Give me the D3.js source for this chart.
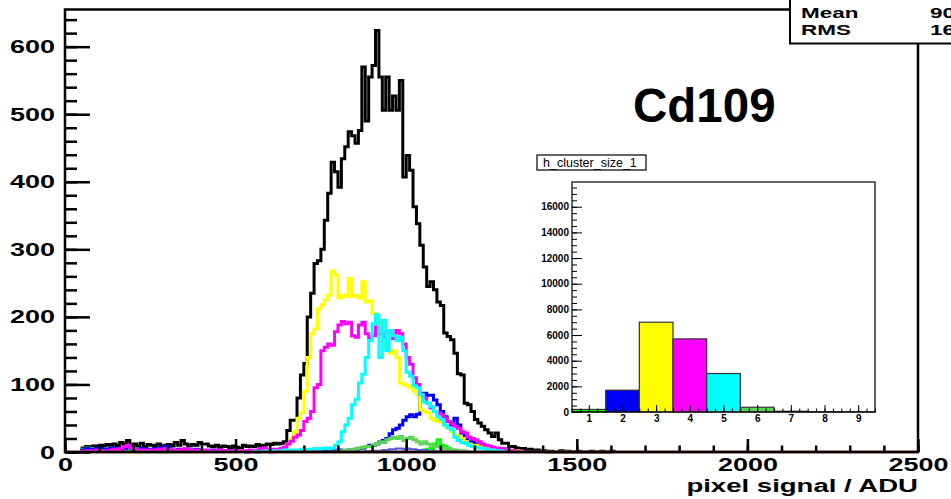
<!DOCTYPE html>
<html>
<head>
<meta charset="utf-8">
<script src="https://cdn.jsdelivr.net/npm/d3@7"></script>
<style>
    body { margin: 0; background: #fff; }
    svg { display: block; }
    text { font-family: "Liberation Sans", Arial, sans-serif; }
</style>
</head>
<body>
<svg id="chart"></svg>
<script>
// bins are 10 ADU wide, every series is given as a first bin + counts
const binWidth = 10;

const blackStart = 5;
const blackCounts = [
    6, 8, 7, 9, 8, 10, 9, 11, 10, 12, 9, 14, 11, 17, 10, 12, 9, 13, 8, 11,
    10, 9, 12, 8, 10, 11, 9, 14, 10, 17, 12, 9, 11, 10, 14, 12, 12, 9, 8, 10,
    7, 9, 8, 6, 9, 7, 5, 10, 8, 9, 8, 11, 9, 10, 12, 11, 13, 12, 13, 15,
    32, 47, 47, 80, 114, 131, 200, 235, 279, 283, 300, 343,
    383, 429, 415, 392, 434, 452, 474, 468, 457, 476, 570, 490, 555, 572, 624,
    555, 506, 555, 506, 527, 506, 550, 407, 439, 417, 363, 338, 306, 274, 245,
    252, 240, 222, 217, 176, 171, 166, 146, 116, 114, 72, 70, 60, 48, 43, 38,
    33, 28, 23, 28, 18, 13, 13, 8, 8, 6, 5, 5, 3, 4, 2, 3, 1, 2, 0,
    1, 0, 0, 2, 0, 1, 0, 0, 1, 0, 0, 0, 1, 0, 0, 1, 0, 0, 1
];

// cluster size 1 (two separate pieces)
const size1LowStart = 5;
const size1LowCounts = [4, 6, 5, 3, 2, 3, 2, 2, 1, 2, 1, 2, 1, 1, 2, 1, 0, 1, 1, 0, 1, 1, 0, 1, 0, 1];
const size1PeakStart = 104;
const size1PeakCounts = [2, 3, 4, 5, 12, 18, 10, 8, 5, 3, 2, 1];

// cluster size 2
const size2Start = 5;
const size2Counts = [
    3, 5, 4, 4, 6, 5, 3, 4, 5, 6, 4, 3, 5, 8, 6, 4, 3, 5, 2, 4,
    3, 5, 4, 6, 8, 7, 3, 2, 4, 3, 2, 3, 2, 4, 3, 2, 1, 2, 3, 2,
    1, 2, 1, 2, 1, 1, 2, 1, 0, 1, 1, 0, 1, 2, 1, 0, 1, 1, 2, 1,
    1, 2, 1, 1, 2, 1, 2, 1, 2, 2, 1, 2, 2, 1, 2, 3, 2, 2, 3, 3,
    3, 5, 6, 8, 10, 10, 12, 15, 17, 20, 27, 33, 35, 40, 47, 52, 55, 52, 56, 84,
    87, 84, 84, 77, 70, 60, 52, 45, 40, 50, 40, 28, 20, 15, 15, 12, 10, 10, 8, 7,
    6, 5, 5, 4, 3, 3, 2, 2, 1, 1
];

// cluster size 3
const size3Start = 50;
const size3Counts = [
    1, 2, 1, 1, 2, 1, 2, 2, 3, 2, 2, 3, 2, 4, 6,
    12, 20, 30, 50, 58, 90, 140, 175, 182, 212, 218, 225, 232, 268, 262,
    228, 232, 230, 257, 230, 232, 228, 252, 222, 224, 205, 195, 190, 165, 155,
    146, 150, 140, 102, 100, 98, 95, 90, 85, 62, 60, 58, 50, 47, 45,
    44, 38, 35, 30, 25, 23, 20, 15, 12, 10, 10, 8, 7, 6, 5, 6, 4, 4, 3, 2, 3, 1, 2, 1
];

// cluster size 4
const size4Start = 5;
const size4Counts = [
    1, 2, 1, 2, 3, 2, 1, 2, 3, 4, 3, 5, 8, 10, 6, 4, 3, 2, 3, 2,
    3, 2, 4, 3, 5, 4, 3, 2, 3, 4, 5, 3, 2, 3, 2, 2, 3, 2, 1, 2,
    3, 2, 1, 2, 2, 1, 2, 1, 2, 3, 2, 3, 5, 6, 4,
    3, 4, 3, 5, 7, 12, 16, 22, 25, 32, 45, 50, 60, 95, 100,
    150, 155, 160, 158, 178, 188, 193, 190, 192, 172, 170, 188, 192, 175, 168,
    172, 185, 175, 170, 178, 180, 168, 180, 175, 160, 140, 130, 110, 100, 85,
    80, 72, 65, 60, 58, 55, 50, 45, 42, 38, 35, 30, 28, 22, 20,
    18, 15, 12, 10, 9, 7, 6, 4, 5, 3, 2, 2, 1
];

// cluster size 5
const size5Start = 55;
const size5Counts = [
    1, 0, 1, 1, 2, 1, 2, 1, 2, 3, 2, 3, 2, 3, 4, 3, 4, 4, 5, 4, 5, 6, 5,
    6, 10, 15, 30, 40, 50, 70, 78, 102, 115, 140, 165, 190, 203, 140, 195, 150,
    180, 172, 165, 170, 150, 118, 112, 98, 95, 85, 74, 72, 67, 60, 52, 48,
    40, 36, 33, 22, 17, 14, 13, 10, 8, 7, 6, 5, 4, 3, 3, 2, 2, 1
];

// cluster size 6
const size6Start = 80;
const size6Counts = [
    2, 2, 3, 3, 3, 5, 6, 7, 8, 8, 10, 12, 15, 14, 18, 20, 22, 20, 23, 17,
    20, 22, 18, 15, 12, 15, 12, 10, 9, 8, 6, 5, 4, 3, 3, 2, 2, 1
];

// cluster size 7
const size7Start = 88;
const size7Counts = [1, 1, 2, 2, 2, 3, 3, 4, 4, 5, 5, 4, 5, 4, 4, 3, 3, 3, 2, 2, 2, 1, 1, 1, 1, 0, 1];

// inset: number of clusters per cluster size
const clusterSizes = [1, 2, 3, 4, 5, 6, 7, 8, 9];
const clusterCounts = [200, 1700, 7000, 5700, 3000, 370, 60, 20, 10];

const yTicks = [0, 100, 200, 300, 400, 500, 600];
const xTicks = [0, 500, 1000, 1500, 2000, 2500];
const insetYTicks = [0, 2000, 4000, 6000, 8000, 10000, 12000, 14000, 16000];
const insetXTicks = [1, 2, 3, 4, 5, 6, 7, 8, 9];

const sizeColors = ['#00ff00', '#0000ff', '#ffff00', '#ff00ff', '#00ffff', '#59d454', '#5954d8', '#cc6666', '#cc6666'];

const plain = d3.format('d');

function stepPoints(start, counts) {
    const pts = [[start * binWidth, 0]];
    counts.forEach((c, i) => {
        const lo = (start + i) * binWidth;
        pts.push([lo, c], [lo + binWidth, c]);
    });
    pts.push([(start + counts.length) * binWidth, 0]);
    return pts;
}

function styleAxis(g, size, weight) {
    g.attr('font-size', size)
        .attr('font-family', '"Liberation Sans", Arial, sans-serif')
        .attr('font-weight', weight);
    g.select('.domain').remove();
    g.selectAll('line').attr('stroke', '#000');
    g.selectAll('text').attr('fill', '#000');
}

function render() {
    const width = 951;
    const height = 499;
    const svg = d3.select('#chart')
        .attr('width', width)
        .attr('height', height);

    svg.append('rect').attr('width', width).attr('height', height).attr('fill', '#fff');

    const frame = {left: 65, right: 918, top: 9.5, bottom: 452};
    const x = d3.scaleLinear().domain([0, 2500]).range([frame.left, frame.right]);
    const y = d3.scaleLinear().domain([0, 655]).range([frame.bottom, frame.top]);

    const line = d3.line().x(d => x(d[0])).y(d => y(d[1]));

    const series = [
        {start: blackStart, counts: blackCounts, color: '#000', w: 3},
        {start: size1LowStart, counts: size1LowCounts, color: sizeColors[0], w: 3},
        {start: size1PeakStart, counts: size1PeakCounts, color: sizeColors[0], w: 3},
        {start: size2Start, counts: size2Counts, color: sizeColors[1], w: 3},
        {start: size3Start, counts: size3Counts, color: sizeColors[2], w: 3},
        {start: size4Start, counts: size4Counts, color: sizeColors[3], w: 3},
        {start: size5Start, counts: size5Counts, color: sizeColors[4], w: 3},
        {start: size6Start, counts: size6Counts, color: sizeColors[5], w: 3},
        {start: size7Start, counts: size7Counts, color: sizeColors[6], w: 2}
    ];

    series.forEach(s => {
        svg.append('path')
            .datum(stepPoints(s.start, s.counts))
            .attr('fill', 'none')
            .attr('stroke', s.color)
            .attr('stroke-width', s.w)
            .attr('d', line);
    });

    // empty histogram lying on the x axis
    svg.append('line')
        .attr('x1', x(0)).attr('x2', x(2500))
        .attr('y1', y(0)).attr('y2', y(0))
        .attr('stroke', '#cc6666')
        .attr('stroke-width', 3);

    // frame
    svg.append('rect')
        .attr('x', frame.left).attr('y', frame.top)
        .attr('width', frame.right - frame.left)
        .attr('height', frame.bottom - frame.top)
        .attr('fill', 'none')
        .attr('stroke', '#000')
        .attr('stroke-width', 2.5);

    // y axis, ticks pointing inside
    svg.append('g')
        .attr('transform', `translate(${frame.left},0)`)
        .call(d3.axisLeft(y).tickValues(d3.range(0, 641, 20)).tickSize(-12).tickFormat(''))
        .call(g => styleAxis(g, 19, 'bold'))
        .selectAll('line').attr('stroke-width', 2.5);

    const yAxis = svg.append('g')
        .attr('transform', `translate(${frame.left},0)`)
        .call(d3.axisLeft(y).tickValues(yTicks).tickFormat(plain)
            .tickSizeInner(-25).tickSizeOuter(0).tickPadding(10))
        .call(g => styleAxis(g, 19, 'bold'));
    yAxis.selectAll('line').attr('stroke-width', 2.5);
    yAxis.selectAll('text')
        .attr('x', -10 / 1.42)
        .attr('transform', 'scale(1.42,1)');

    // x axis
    svg.append('g')
        .attr('transform', `translate(0,${frame.bottom})`)
        .call(d3.axisBottom(x).tickValues(d3.range(0, 2501, 100)).tickSize(-6.5).tickFormat(''))
        .call(g => styleAxis(g, 19, 'bold'))
        .selectAll('line').attr('stroke-width', 2.5);

    const xAxis = svg.append('g')
        .attr('transform', `translate(0,${frame.bottom})`)
        .call(d3.axisBottom(x).tickValues(xTicks).tickFormat(plain)
            .tickSizeInner(-13).tickSizeOuter(0).tickPadding(6))
        .call(g => styleAxis(g, 19, 'bold'));
    xAxis.selectAll('line').attr('stroke-width', 2.5);
    xAxis.selectAll('text').attr('transform', 'scale(1.42,1)');

    svg.append('text')
        .attr('transform', `translate(${frame.right},492) scale(1.45,1)`)
        .attr('text-anchor', 'end')
        .attr('font-size', 19)
        .attr('font-weight', 'bold')
        .text('pixel signal / ADU');

    // stats box, cut by the right edge
    svg.append('rect')
        .attr('x', 790).attr('y', -5)
        .attr('width', 220).attr('height', 48.5)
        .attr('fill', '#fff')
        .attr('stroke', '#000')
        .attr('stroke-width', 2);

    const stats = [['Mean', '905.3', 18], ['RMS', '163.7', 34.5]];
    stats.forEach(([name, value, base]) => {
        svg.append('text')
            .attr('transform', `translate(801,${base}) scale(1.45,1)`)
            .attr('font-size', 15.5)
            .attr('font-weight', 'bold')
            .text(name);
        svg.append('text')
            .attr('transform', `translate(930,${base}) scale(1.45,1)`)
            .attr('font-size', 15.5)
            .attr('font-weight', 'bold')
            .text(value);
    });

    svg.append('text')
        .attr('x', 633).attr('y', 122)
        .attr('font-size', 47.5)
        .attr('font-weight', 'bold')
        .text('Cd109');

    // ---- inset: cluster size ----
    const ix = d3.scaleLinear().domain([0.5, 9.5]).range([572, 875]);
    const iy = d3.scaleLinear().domain([0, 17930]).range([412, 182]);

    svg.append('rect')
        .attr('x', ix(0.5)).attr('y', iy(17930))
        .attr('width', ix(9.5) - ix(0.5))
        .attr('height', iy(0) - iy(17930))
        .attr('fill', '#fff');

    svg.append('g')
        .selectAll('rect')
        .data(clusterSizes)
        .enter()
        .append('rect')
        .attr('x', d => ix(d - 0.5))
        .attr('width', d => ix(d + 0.5) - ix(d - 0.5))
        .attr('y', (d, i) => iy(clusterCounts[i]))
        .attr('height', (d, i) => iy(0) - iy(clusterCounts[i]))
        .attr('fill', (d, i) => sizeColors[i])
        .attr('stroke', '#333')
        .attr('stroke-width', 1.2);

    svg.append('g')
        .attr('transform', 'translate(572,0)')
        .call(d3.axisLeft(iy).tickValues(d3.range(0, 17501, 500)).tickSize(-5).tickFormat(''))
        .call(g => styleAxis(g, 10, 'bold'));

    svg.append('g')
        .attr('transform', 'translate(572,0)')
        .call(d3.axisLeft(iy).tickValues(insetYTicks).tickFormat(plain)
            .tickSizeInner(-10).tickSizeOuter(0).tickPadding(3))
        .call(g => styleAxis(g, 10, 'bold'));

    svg.append('g')
        .attr('transform', 'translate(0,412)')
        .call(d3.axisBottom(ix).tickValues(d3.range(0.5, 9.51, 0.25)).tickSize(-3.5).tickFormat(''))
        .call(g => styleAxis(g, 10, 'bold'));

    svg.append('g')
        .attr('transform', 'translate(0,412)')
        .call(d3.axisBottom(ix).tickValues(insetXTicks).tickFormat(plain)
            .tickSizeInner(-7).tickSizeOuter(0).tickPadding(3))
        .call(g => styleAxis(g, 10, 'bold'));

    svg.append('rect')
        .attr('x', ix(0.5)).attr('y', iy(17930))
        .attr('width', ix(9.5) - ix(0.5))
        .attr('height', iy(0) - iy(17930))
        .attr('fill', 'none')
        .attr('stroke', '#000')
        .attr('stroke-width', 1.2);

    // inset title box
    svg.append('rect')
        .attr('x', 537).attr('y', 155)
        .attr('width', 109).attr('height', 15)
        .attr('fill', '#fff')
        .attr('stroke', '#000')
        .attr('stroke-width', 1.2);

    svg.append('text')
        .attr('x', 543).attr('y', 166.5)
        .attr('font-size', 12.5)
        .text('h_cluster_size_1');
}

render();
</script>
</body>
</html>
